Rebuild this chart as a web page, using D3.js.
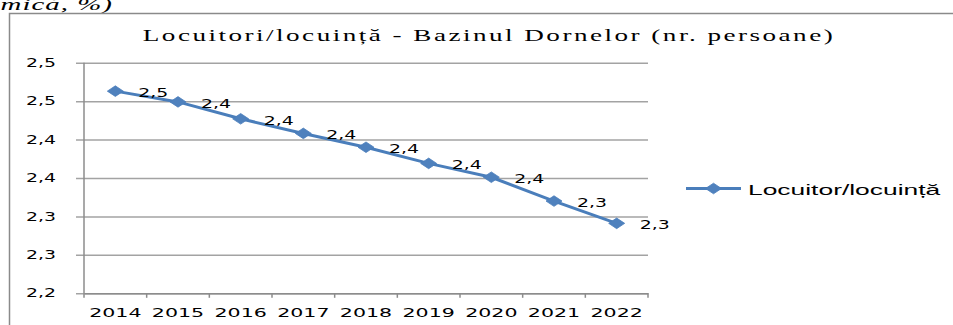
<!DOCTYPE html>
<html>
<head>
<meta charset="utf-8">
<script src="https://cdn.jsdelivr.net/npm/d3@7"></script>
<style>
  html, body { margin: 0; padding: 0; background: #fff; }
  svg { display: block; }
</style>
</head>
<body>
<svg id="chart" width="953" height="325"></svg>
<script>
// Residents per dwelling, Bazinul Dornelor
const years = ["2014", "2015", "2016", "2017", "2018", "2019", "2020", "2021", "2022"];
const residentsPerDwelling = [2.463, 2.449, 2.427, 2.408, 2.390, 2.369, 2.351, 2.320, 2.291];
const yTicks = [2.20, 2.25, 2.30, 2.35, 2.40, 2.45, 2.50];
const chartTitle = "Locuitori/locuință - Bazinul Dornelor (nr. persoane)";
const seriesName = "Locuitor/locuință";
const captionTail = "amică, %)";

const W = 953, H = 325;
const plot = { left: 84, right: 648, top: 62.7, bottom: 293.3 };
const lineColor = "#4a7ebb";
const markerColor = "#4f81bd";
const gridColor = "#a3a3a3";
const axisColor = "#8c8c8c";

const svg = d3.select("#chart");
svg.append("rect").attr("width", W).attr("height", H).attr("fill", "#fff");

// widen text horizontally by factor k
function stretch(sel, k) {
  sel.each(function () {
    const w = this.getComputedTextLength();
    d3.select(this).attr("textLength", w * k).attr("lengthAdjust", "spacingAndGlyphs");
  });
}

// caption fragment above the chart frame
svg.append("text")
  .attr("x", 113).attr("y", 9.5)
  .attr("text-anchor", "end")
  .style("font-family", "'Liberation Serif', serif")
  .style("font-style", "italic")
  .style("font-size", "17px")
  .style("letter-spacing", "0.6px")
  .attr("fill", "#000")
  .text(captionTail)
  .call(stretch, 1.7);

// chart frame
svg.append("rect")
  .attr("x", 9.5).attr("y", 13.5)
  .attr("width", 1000).attr("height", 400)
  .attr("fill", "none")
  .attr("stroke", "#8a8a8a")
  .attr("stroke-width", 1.5);

// title
svg.append("text")
  .attr("x", 489).attr("y", 41)
  .attr("text-anchor", "middle")
  .style("font-family", "'Liberation Serif', serif")
  .style("font-size", "17.5px")
  .style("letter-spacing", "1.6px")
  .attr("fill", "#000")
  .text(chartTitle)
  .call(stretch, 1.55);

const x = d3.scaleBand().domain(years).range([plot.left, plot.right]);
const y = d3.scaleLinear().domain([2.2, 2.5]).range([plot.bottom, plot.top]);
const fmt = v => d3.format(".1f")(v).replace(".", ",");

// y axis: gridlines plus labels
const gridStart = 76;
const yAxis = svg.append("g")
  .attr("transform", `translate(${gridStart},0)`)
  .call(d3.axisLeft(y)
    .tickValues(yTicks)
    .tickFormat(fmt)
    .tickSizeInner(-(plot.right - gridStart))
    .tickSizeOuter(0)
    .tickPadding(20));
yAxis.select(".domain").remove();
yAxis.selectAll(".tick line").attr("stroke", gridColor).attr("stroke-width", 1.5);
yAxis.selectAll(".tick text")
  .style("font-family", "'DejaVu Sans', sans-serif")
  .style("font-size", "11.5px")
  .attr("fill", "#000")
  .call(stretch, 1.64);

// vertical axis line
svg.append("line")
  .attr("x1", plot.left).attr("x2", plot.left)
  .attr("y1", plot.top).attr("y2", plot.bottom)
  .attr("stroke", axisColor).attr("stroke-width", 1.5);

// x axis: labels centred on bands
const xAxis = svg.append("g")
  .attr("transform", `translate(0,${plot.bottom})`)
  .call(d3.axisBottom(x).tickSize(0).tickPadding(14));
xAxis.select(".domain").attr("stroke", axisColor).attr("stroke-width", 1.5);
xAxis.selectAll(".tick text")
  .style("font-family", "'DejaVu Sans', sans-serif")
  .style("font-size", "13px")
  .attr("fill", "#000")
  .call(stretch, 1.58);

// tick marks at band boundaries
const boundaries = years.map(d => x(d)).concat([x.range()[1]]);
svg.append("g").selectAll("line")
  .data(boundaries)
  .join("line")
  .attr("x1", d => d).attr("x2", d => d)
  .attr("y1", plot.bottom).attr("y2", plot.bottom + 4.5)
  .attr("stroke", axisColor).attr("stroke-width", 1.5);

const points = years.map((d, i) => ({ year: d, value: residentsPerDwelling[i] }));
const cx = d => x(d.year) + x.bandwidth() / 2;

// series line
svg.append("path")
  .datum(points)
  .attr("fill", "none")
  .attr("stroke", lineColor)
  .attr("stroke-width", 3)
  .attr("stroke-linejoin", "round")
  .attr("d", d3.line().x(cx).y(d => y(d.value)));

// diamond markers
const diamond = (hw, hh) => `M${-hw},0L0,${-hh}L${hw},0L0,${hh}Z`;
svg.append("g").selectAll("path")
  .data(points)
  .join("path")
  .attr("transform", d => `translate(${cx(d)},${y(d.value)})`)
  .attr("d", diamond(8, 5.3))
  .attr("fill", markerColor)
  .attr("stroke", lineColor)
  .attr("stroke-width", 0.8);

// value labels
svg.append("g").selectAll("text")
  .data(points)
  .join("text")
  .attr("x", d => cx(d) + 23)
  .attr("y", d => y(d.value) + 6)
  .style("font-family", "'DejaVu Sans', sans-serif")
  .style("font-size", "11.5px")
  .attr("fill", "#000")
  .text(d => fmt(d.value))
  .call(stretch, 1.64);

// legend
const legend = svg.append("g").attr("transform", "translate(686,188.5)");
legend.append("line")
  .attr("x1", 0).attr("x2", 55)
  .attr("stroke", lineColor).attr("stroke-width", 3);
legend.append("path")
  .attr("transform", "translate(27.5,0)")
  .attr("d", diamond(8, 5.3))
  .attr("fill", markerColor)
  .attr("stroke", lineColor)
  .attr("stroke-width", 0.8);
legend.append("text")
  .attr("x", 62).attr("y", 6)
  .style("font-family", "'Liberation Sans', Arial, sans-serif")
  .style("font-size", "15px")
  .attr("fill", "#000")
  .text(seriesName)
  .call(stretch, 1.76);
</script>
</body>
</html>
